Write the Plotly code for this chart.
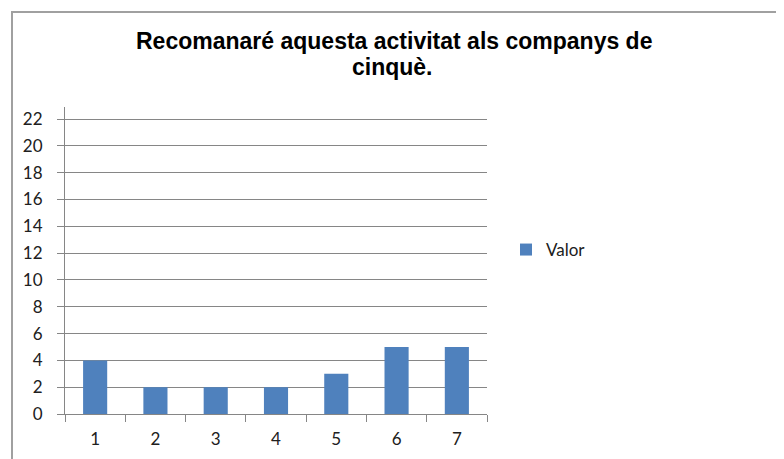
import plotly.graph_objects as go

categories = ['1', '2', '3', '4', '5', '6', '7']
valor = [4, 2, 2, 2, 3, 5, 5]
y_ticks = list(range(0, 23, 2))

title_lines = ['Recomanaré aquesta activitat als companys de', 'cinquè.']

fig = go.Figure()
fig.add_trace(go.Bar(x=categories, y=valor, name='Valor',
                     marker=dict(color='#4f81bd', line=dict(width=0))))

OFF = 8
W, H = 784, 459
L, R, T, B = 65 - OFF, 487 - OFF, 107 - OFF, 414 - OFF
pw, ph = R - L, B - T

def px_x(x):
    return (x - OFF - L) / pw

def px_y(y):
    return (B - (y - OFF)) / ph

title_font = dict(family='Liberation Sans, Arial', size=23, color='black')
tick_font = dict(family='Lato, Open Sans', size=17, color='#202020')

fig.update_layout(
    width=W, height=H,
    margin=dict(l=L, r=W - R, t=T, b=H - B, autoexpand=False),
    paper_bgcolor='white', plot_bgcolor='white',
    bargap=0.6,
    showlegend=True,
    legend=dict(x=px_x(506), y=px_y(250), xanchor='left', yanchor='middle',
                font=tick_font, itemwidth=30, bgcolor='rgba(0,0,0,0)'),
    font=tick_font,
    xaxis=dict(showgrid=False, showline=True, linecolor='#868686', linewidth=1,
               ticks='outside', tickson='boundaries', ticklen=7,
               tickcolor='#868686', ticklabelstandoff=10, tickfont=tick_font),
    yaxis=dict(range=[0, 22.9], tickvals=y_ticks, showgrid=True,
               gridcolor='#868686', gridwidth=1, showline=True,
               linecolor='#868686', linewidth=1, ticks='outside', ticklen=7,
               tickcolor='#868686', zeroline=False, ticklabelstandoff=11,
               tickfont=tick_font),
    shapes=[dict(type='rect', xref='paper', yref='paper',
                 x0=px_x(12), x1=px_x(777), y0=px_y(490), y1=px_y(12),
                 line=dict(color='#a0a0a0', width=2), layer='below')],
    annotations=[
        dict(text='<b>' + title_lines[0] + '</b>', xref='paper', yref='paper',
             x=px_x(394), y=px_y(41), xanchor='center', yanchor='middle',
             showarrow=False, font=title_font),
        dict(text='<b>' + title_lines[1] + '</b>', xref='paper', yref='paper',
             x=px_x(392), y=px_y(67), xanchor='center', yanchor='middle',
             showarrow=False, font=title_font),
    ],
)

fig.write_html('out.html')
